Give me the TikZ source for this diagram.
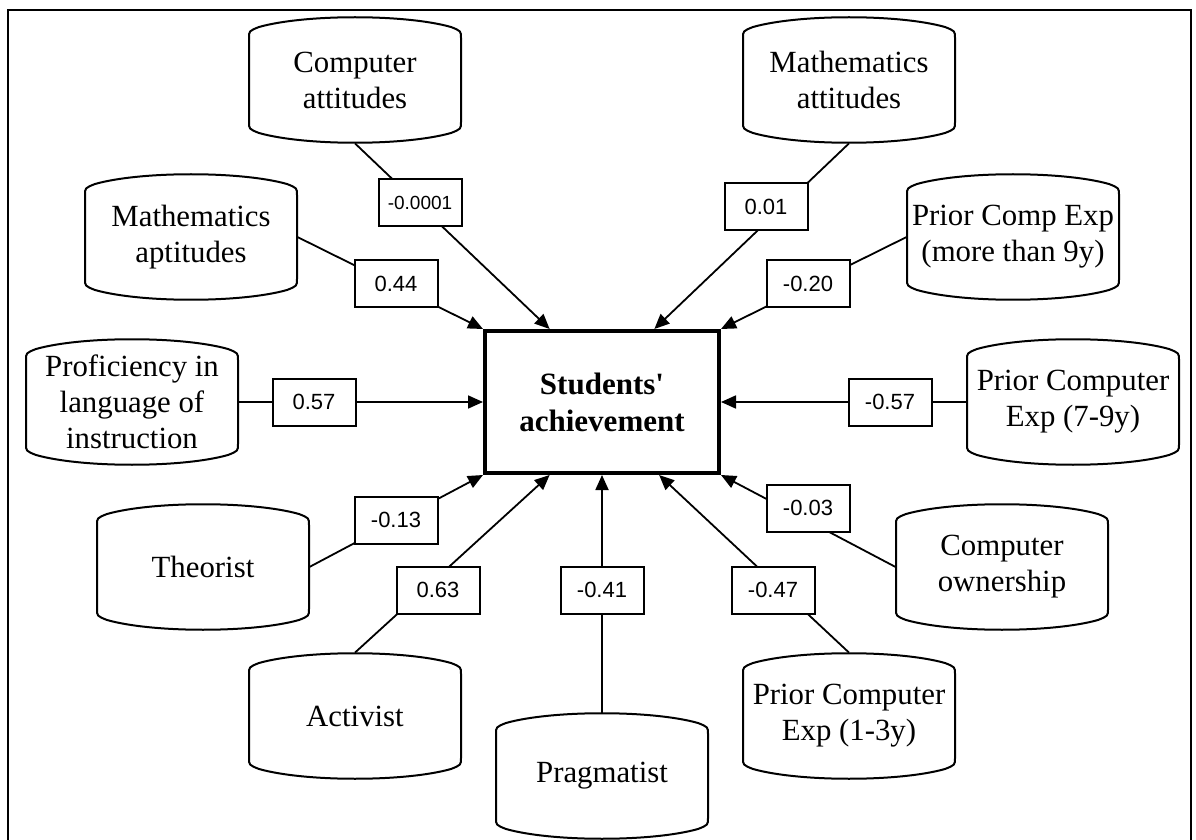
\documentclass[tikz,border=0pt]{standalone}
\usepackage{fontspec}
\setmainfont{Liberation Serif}
\setsansfont{Liberation Sans}
\usetikzlibrary{arrows.meta,calc}

\tikzset{
	factor/.style = {minimum width=106pt, minimum height=63pt, inner sep=0pt,
		align=center, font=\fontsize{15.4}{18}\selectfont},
	weight/.style = {shape=rectangle, draw, fill=white, line width=1pt,
		minimum width=41.5pt, minimum height=23.5pt, inner sep=0pt,
		font=\fontsize{11}{13}\sffamily},
	outcome/.style = {shape=rectangle, draw, line width=2pt,
		minimum width=117pt, minimum height=71pt, align=center,
		font=\fontsize{15.5}{18.5}\selectfont\bfseries},
	effect/.style = {line width=0.9pt, -{Triangle[length=7.5pt,width=6.5pt]}}
}

% outline of a predictor box, drawn round a named node
\newcommand\factorshape[1]{%
	\draw[line width=1pt, shift={(#1.center)}]
	(-106,-42) .. controls (-106,-49) .. (-96,-53)
	.. controls (-50,-66) and (50,-66) .. (96,-53)
	.. controls (106,-49) .. (106,-42) -- (106,42)
	.. controls (106,49) .. (96,53)
	.. controls (50,66) and (-50,66) .. (-96,53)
	.. controls (-106,49) .. (-106,42) -- cycle;}

\begin{document}
\begin{tikzpicture}[x=0.5pt, y=-0.5pt]
	\useasboundingbox (0,0) rectangle (1196,840);
	\draw[line width=1pt] (8,850) -- (8,10) -- (1191,10) -- (1191,850);

	\node[outcome] (sa) at (602,402) {Students\textquotesingle\\achievement};

	% predictors
	\node[factor] (ca) at (355,80) {Computer\\attitudes};
	\node[factor] (mt) at (849,80) {Mathematics\\attitudes};
	\node[factor] (ma) at (191,237) {Mathematics\\aptitudes};
	\node[factor] (p9) at (1013,237) {Prior Comp Exp\\(more than 9y)};
	\node[factor] (pl) at (132,402) {Proficiency in\\language of\\instruction};
	\node[factor] (p79) at (1073,402) {Prior Computer\\Exp (7-9y)};
	\node[factor] (th) at (203,567) {Theorist};
	\node[factor] (co) at (1002,567) {Computer\\ownership};
	\node[factor] (ac) at (355,716) {Activist};
	\node[factor] (p13) at (849,716) {Prior Computer\\Exp (1-3y)};
	\node[factor] (pr) at (602,776) {Pragmatist};
	\foreach \n in {ca,mt,ma,p9,pl,p79,th,co,ac,p13,pr}
		\factorshape{\n};

	% end points on the outcome box
	\coordinate (t1) at ($(sa.north west)!.28!(sa.north east)$);
	\coordinate (t2) at ($(sa.north west)!.72!(sa.north east)$);
	\coordinate (b1) at ($(sa.south west)!.28!(sa.south east)$);
	\coordinate (b2) at ($(sa.south west)!.74!(sa.south east)$);

	\draw[effect] (ca.south) -- (t1);
	\draw[effect] (mt.south) -- (t2);
	\draw[effect] (ma.east) -- (sa.north west);
	\draw[effect] (p9.west) -- (sa.north east);
	\draw[effect] (pl.east) -- (sa.west);
	\draw[effect] (p79.west) -- (sa.east);
	\draw[effect] (th.east) -- (sa.south west);
	\draw[effect] (co.west) -- (sa.south east);
	\draw[effect] (ac.north) -- (b1);
	\draw[effect] (pr.north) -- (sa.south);
	\draw[effect] (p13.north) -- (b2);

	% path weights
	\node[weight, font=\fontsize{9.5}{11}\sffamily] (w1) at (420,203) {-0.0001};
	\node[weight] (w2) at (766,207) {0.01};
	\node[weight] (w3) at (396,284) {0.44};
	\node[weight] (w4) at (808,284) {-0.20};
	\node[weight] (w5) at (314,402) {0.57};
	\node[weight] (w6) at (890,402) {-0.57};
	\node[weight] (w7) at (396,520) {-0.13};
	\node[weight] (w8) at (808,508) {-0.03};
	\node[weight] (w9) at (438,590) {0.63};
	\node[weight] (w10) at (602,590) {-0.41};
	\node[weight] (w11) at (773,590) {-0.47};
\end{tikzpicture}
\end{document}
